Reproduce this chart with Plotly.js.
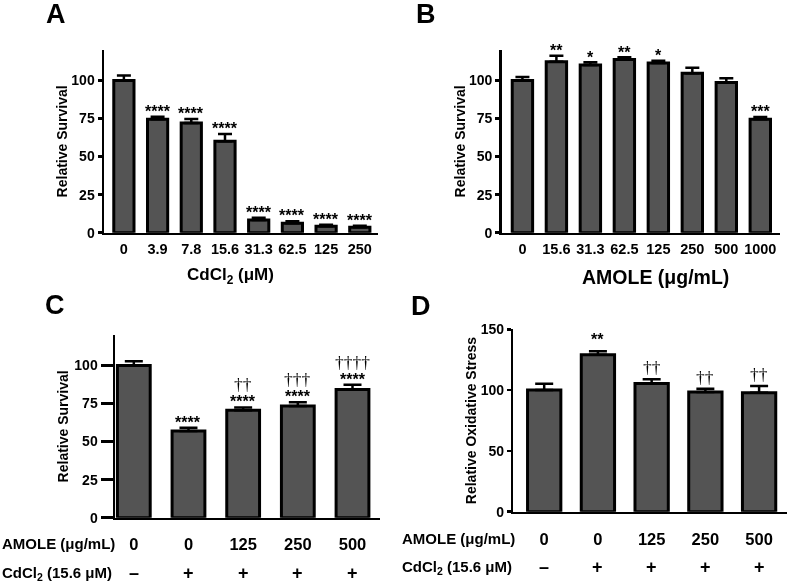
<!DOCTYPE html>
<html>
<head>
<meta charset="utf-8">
<script src="https://cdn.plot.ly/plotly-3.0.1.min.js"></script>
<style>
html,body{margin:0;padding:0;background:#fff;}
#chart{width:787px;height:585px;}
#chart .svg-container{will-change:transform;}
</style>
</head>
<body>
<div id="chart"></div>
<script>
// ---------- DATA ----------
// Panel A: CdCl2 dose response
const catsA = ["0", "3.9", "7.8", "15.6", "31.3", "62.5", "125", "250"];
const valsA = [100, 74.5, 72, 60, 8.3, 6.2, 4.3, 3.6];
const errsA = [3.3, 1.6, 2.7, 4.8, 1.6, 1.4, 0.9, 0.9];
const sigA  = ["", "****", "****", "****", "****", "****", "****", "****"];

// Panel B: AMOLE dose response
const catsB = ["0", "15.6", "31.3", "62.5", "125", "250", "500", "1000"];
const valsB = [100, 112.3, 110.2, 113.7, 111.5, 104.8, 98.7, 74.5];
const errsB = [2.2, 4.0, 1.8, 1.5, 1.5, 3.5, 2.7, 1.5];
const sigB  = ["", "**", "*", "**", "*", "", "", "***"];

// Panel C: protection, relative survival
const amoleC = ["0", "0", "125", "250", "500"];
const cdC    = ["\u2013", "+", "+", "+", "+"];
const valsC  = [100, 57, 70.6, 73.3, 84.2];
const errsC  = [2.8, 2.1, 1.8, 2.6, 3.1];
const starC  = ["", "****", "****", "****", "****"];
const dagC   = ["", "", "\u2020\u2020", "\u2020\u2020\u2020", "\u2020\u2020\u2020\u2020"];

// Panel D: relative oxidative stress
const amoleD = ["0", "0", "125", "250", "500"];
const cdD    = ["\u2013", "+", "+", "+", "+"];
const valsD  = [100, 129, 105.5, 98.5, 97.8];
const errsD  = [5.2, 3.0, 3.4, 2.7, 5.6];
const starD  = ["", "**", "", "", ""];
const dagD   = ["", "", "\u2020\u2020", "\u2020\u2020", "\u2020\u2020"];

// Titles
const titleA = "CdCl<sub>2</sub> (\u03bcM)";
const titleB = "AMOLE (\u03bcg/mL)";
const rowAmole = "AMOLE (\u03bcg/mL)";
const rowCd = "CdCl<sub>2</sub> (15.6 \u03bcM)";

// ---------- STYLE ----------
const SANS = "Liberation Sans, Arial, Helvetica, sans-serif";
const SERIF = "Liberation Serif, Times New Roman, serif";
const BAR_FILL = "#545454";
const W = 787, H = 585;
const px = v => v / W;
const py = v => 1 - v / H;
const idx = arr => arr.map((_, i) => i);

function barTrace(vals, errs, xa, ya, width, cap) {
  return {
    type: "bar",
    x: idx(vals), y: vals,
    xaxis: xa, yaxis: ya,
    width: width,
    marker: {color: BAR_FILL, line: {color: "#000", width: 3}},
    error_y: {type: "data", symmetric: false, array: errs, arrayminus: errs.map(() => 0),
              color: "#000", thickness: 2.5, width: cap},
    hoverinfo: "skip"
  };
}

const data = [
  barTrace(valsA, errsA, "x", "y", 0.6, 7),
  barTrace(valsB, errsB, "x2", "y2", 0.6, 7),
  barTrace(valsC, errsC, "x3", "y3", 0.6, 9),
  barTrace(valsD, errsD, "x4", "y4", 0.62, 9)
];

function yAx(domain, range, dtick, ticklen, titleText, standoff, anchor) {
  return {
    domain: domain, range: range, dtick: dtick, tick0: 0,
    showline: true, linecolor: "#000", linewidth: 2.5,
    ticks: "outside", ticklen: ticklen, tickwidth: 2.5, tickcolor: "#000",
    showgrid: false, zeroline: false, anchor: anchor,
    tickfont: {family: SANS, size: 14, color: "#000", weight: "bold"},
    title: {text: titleText, standoff: standoff,
            font: {family: SANS, size: 14, color: "#000", weight: "bold"}},
    fixedrange: true
  };
}
function xAx(domain, range, labels, fontSize, anchor, lblStandoff) {
  return {
    domain: domain, range: range,
    tickmode: "array", tickvals: idx(labels), ticktext: labels,
    showline: true, linecolor: "#000", linewidth: 2.5,
    ticks: "", showgrid: false, zeroline: false, anchor: anchor,
    ticklabelstandoff: lblStandoff,
    tickfont: {family: SANS, size: fontSize, color: "#000", weight: "bold"},
    fixedrange: true
  };
}

const layout = {
  width: W, height: H,
  margin: {l: 0, r: 0, t: 0, b: 0, pad: 0},
  paper_bgcolor: "#fff", plot_bgcolor: "#fff",
  showlegend: false, bargap: 0,
  xaxis:  xAx([px(104), px(378)], [-0.59, 7.54], catsA, 14.5, "y", 1),
  yaxis:  yAx([py(232.7), py(50)], [0, 120], 25, 4, "Relative Survival", 1, "x"),
  xaxis2: xAx([px(501.7), px(780)], [-0.61, 7.58], catsB, 14.5, "y2", 1),
  yaxis2: yAx([py(232.7), py(50)], [0, 120], 25, 4, "Relative Survival", 0, "x2"),
  xaxis3: xAx([px(115), px(380)], [-0.344, 4.503], amoleC, 16.5, "y3", 10),
  yaxis3: yAx([py(517.7), py(335)], [0, 120], 25, 12, "Relative Survival", 3, "x3"),
  xaxis4: xAx([px(513.3), px(786.5)], [-0.575, 4.51], amoleD, 16.5, "y4", 11),
  yaxis4: yAx([py(511.7), py(329.3)], [0, 150], 50, 4, "Relative Oxidative Stress", 1, "x4"),
  annotations: []
};

function sigAnn(labels, vals, errs, xa, ya, font, yshift) {
  labels.forEach((t, i) => {
    if (!t) return;
    layout.annotations.push({
      xref: xa, yref: ya, x: i, y: vals[i] + errs[i], text: t,
      showarrow: false, xanchor: "center", yanchor: "bottom", yshift: yshift,
      font: font
    });
  });
}
const starFont = {family: SANS, size: 16, color: "#000", weight: "bold"};
const dagFont = {family: SERIF, size: 17.5, color: "#000"};
sigAnn(sigA, valsA, errsA, "x", "y", starFont, -5);
sigAnn(sigB, valsB, errsB, "x2", "y2", starFont, -5.5);
sigAnn(starC, valsC, errsC, "x3", "y3", starFont, -5);
sigAnn(dagC, valsC, errsC, "x3", "y3", dagFont, 11);
sigAnn(starD, valsD, errsD, "x4", "y4", starFont, 1.5);
sigAnn(dagD, valsD, errsD, "x4", "y4", dagFont, 0);

// x-axis titles of A and B
const xTitleFontA = {family: SANS, size: 17, color: "#000", weight: "bold"};
const xTitleFontB = {family: SANS, size: 19.5, color: "#000", weight: "bold"};
layout.annotations.push({xref: "paper", yref: "paper", x: px(230), y: py(276), text: titleA,
  showarrow: false, xanchor: "center", yanchor: "middle", font: xTitleFontA});
layout.annotations.push({xref: "paper", yref: "paper", x: px(655), y: py(277), text: titleB,
  showarrow: false, xanchor: "center", yanchor: "middle", font: xTitleFontB});

// CdCl2 +/- row under C and D
function signRow(labels, xa, yBottomPix) {
  labels.forEach((t, i) => {
    layout.annotations.push({
      xref: xa, yref: "paper", x: i, y: py(yBottomPix), text: t,
      showarrow: false, xanchor: "center", yanchor: "bottom",
      font: {family: SANS, size: 18, color: "#000", weight: "bold"}
    });
  });
}
signRow(cdC, "x3", 585);
signRow(cdD, "x4", 579);

// Row labels
const rowFont = {family: SANS, size: 15, color: "#000", weight: "bold"};
[[0, 543, "middle", rowAmole], [0, 585, "bottom", rowCd],
 [400, 538, "middle", rowAmole], [400, 579, "bottom", rowCd]].forEach(r => {
  layout.annotations.push({xref: "paper", yref: "paper", x: px(r[0]), y: py(r[1]), text: r[3],
    showarrow: false, xanchor: "left", yanchor: r[2], font: rowFont});
});

// Panel letters
const letterFont = {family: SANS, size: 27, color: "#000", weight: "bold"};
[["A", 56, 14], ["B", 426, 14], ["C", 55.5, 305], ["D", 421, 306]].forEach(l => {
  layout.annotations.push({xref: "paper", yref: "paper", x: px(l[1]), y: py(l[2]), text: l[0],
    showarrow: false, xanchor: "center", yanchor: "middle", font: letterFont});
});

Plotly.newPlot("chart", data, layout, {displayModeBar: false, staticPlot: true});
</script>
</body>
</html>
